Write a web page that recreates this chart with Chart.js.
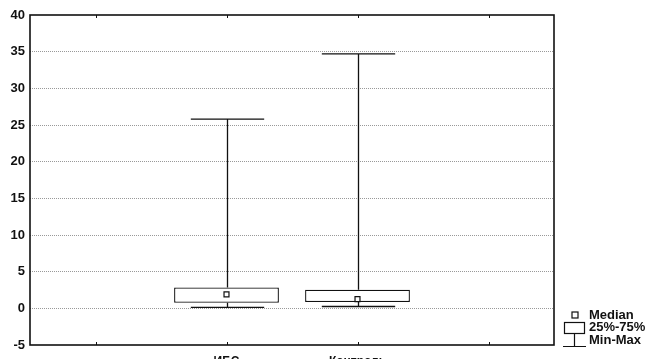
<!DOCTYPE html>
<html>
<head>
<meta charset="utf-8">
<script src="https://cdn.jsdelivr.net/npm/chart.js@4"></script>
<style>
  html, body { margin: 0; padding: 0; background: #fff; }
  #wrap { width: 649px; height: 359px; }
</style>
</head>
<body>
<div id="wrap"><canvas id="chart" width="649" height="359"></canvas></div>
<script>
// groups (outer empty slots give the padding on each side)
const groups = ["", "ИБС", "Контроль", ""];
const minVals = [null, 0.13, 0.25, null];
const q1Vals = [null, 0.75, 0.85, null];
const medianVals = [null, 1.9, 1.25, null];
const q3Vals = [null, 2.85, 2.55, null];
const maxVals = [null, 25.8, 34.7, null];
const legendLabels = ["Median", "25%-75%", "Min-Max"];

const FONT = "'Liberation Sans', Arial, sans-serif";

// whiskers, frame, inward ticks and the legend
const boxExtras = {
  id: "boxExtras",
  afterDatasetsDraw(chart) {
    const { ctx, chartArea: a, scales: { x, y } } = chart;
    ctx.save();
    ctx.strokeStyle = "#111";
    ctx.lineWidth = 1.3;
    const slot = x.getPixelForValue(1) - x.getPixelForValue(0);
    const capHalf = slot * 0.28;
    groups.forEach((g, i) => {
      if (maxVals[i] == null) return;
      const px = Math.round(x.getPixelForValue(i)) + 0.5;
      const yMax = y.getPixelForValue(maxVals[i]);
      const yMin = y.getPixelForValue(minVals[i]);
      const yQ3 = y.getPixelForValue(q3Vals[i]);
      const yQ1 = y.getPixelForValue(q1Vals[i]);
      ctx.beginPath();
      ctx.moveTo(px, yQ3); ctx.lineTo(px, yMax);
      ctx.moveTo(px - capHalf, yMax); ctx.lineTo(px + capHalf, yMax);
      ctx.moveTo(px, yQ1); ctx.lineTo(px, yMin);
      ctx.moveTo(px - capHalf, yMin); ctx.lineTo(px + capHalf, yMin);
      ctx.stroke();
    });

    // frame
    ctx.lineWidth = 1.6;
    ctx.strokeRect(a.left, a.top, a.right - a.left, a.bottom - a.top);

    // inward tick marks on top and bottom
    ctx.lineWidth = 1;
    groups.forEach((g, i) => {
      const px = Math.round(x.getPixelForValue(i)) + 0.5;
      ctx.beginPath();
      ctx.moveTo(px, a.top); ctx.lineTo(px, a.top + 3);
      ctx.moveTo(px, a.bottom); ctx.lineTo(px, a.bottom - 3);
      ctx.stroke();
    });

    // legend
    const lx = a.right + 10;
    ctx.lineWidth = 1.2;
    ctx.fillStyle = "#fff";
    ctx.fillRect(lx + 8, 312, 6, 6);
    ctx.strokeRect(lx + 8, 312, 6, 6);
    ctx.strokeRect(lx + 0.5, 322.5, 20, 11);
    ctx.beginPath();
    ctx.moveTo(lx + 10.5, 333.5); ctx.lineTo(lx + 10.5, 346.5);
    ctx.moveTo(lx - 1, 346.5); ctx.lineTo(lx + 22, 346.5);
    ctx.stroke();
    ctx.fillStyle = "#111";
    ctx.font = "bold 13px " + FONT;
    ctx.textBaseline = "middle";
    ctx.textAlign = "left";
    legendLabels.forEach((t, i) => ctx.fillText(t, lx + 25, 315 + i * 12.5));
    ctx.restore();
  }
};

new Chart(document.getElementById("chart"), {
  type: "bar",
  data: {
    labels: groups,
    datasets: [
      {
        label: "25%-75%",
        data: groups.map((g, i) => (q1Vals[i] == null ? null : [q1Vals[i], q3Vals[i]])),
        backgroundColor: "#fff",
        borderColor: "#111",
        borderWidth: 1.3,
        borderSkipped: false,
        barPercentage: 0.8,
        categoryPercentage: 1,
        order: 2,
      },
      {
        type: "line",
        label: "Median",
        data: medianVals,
        showLine: false,
        pointStyle: "rect",
        pointRadius: 3.5,
        pointBackgroundColor: "#fff",
        pointBorderColor: "#111",
        pointBorderWidth: 1.2,
        order: 1,
      },
    ],
  },
  options: {
    responsive: false,
    animation: false,
    layout: { padding: { top: 15, right: 95, left: 0, bottom: 0 } },
    plugins: { legend: { display: false }, tooltip: { enabled: false } },
    scales: {
      x: {
        grid: { display: false },
        border: { display: false },
        ticks: { color: "#111", font: { family: FONT, size: 12, weight: "bold" }, padding: 1 },
        afterFit: (s) => { s.height = 14; },
      },
      y: {
        min: -5,
        max: 40,
        ticks: {
          stepSize: 5,
          color: "#111",
          padding: 5,
          font: { family: FONT, size: 13, weight: "bold" },
        },
        grid: {
          color: (c) => (c.tick && (c.tick.value === -5 || c.tick.value === 40) ? "rgba(0,0,0,0)" : "#999"),
          lineWidth: 1,
          drawTicks: false,
        },
        border: { display: false, dash: [1, 1] },
        afterFit: (s) => { s.width = 30; },
      },
    },
  },
  plugins: [boxExtras],
});
</script>
</body>
</html>
